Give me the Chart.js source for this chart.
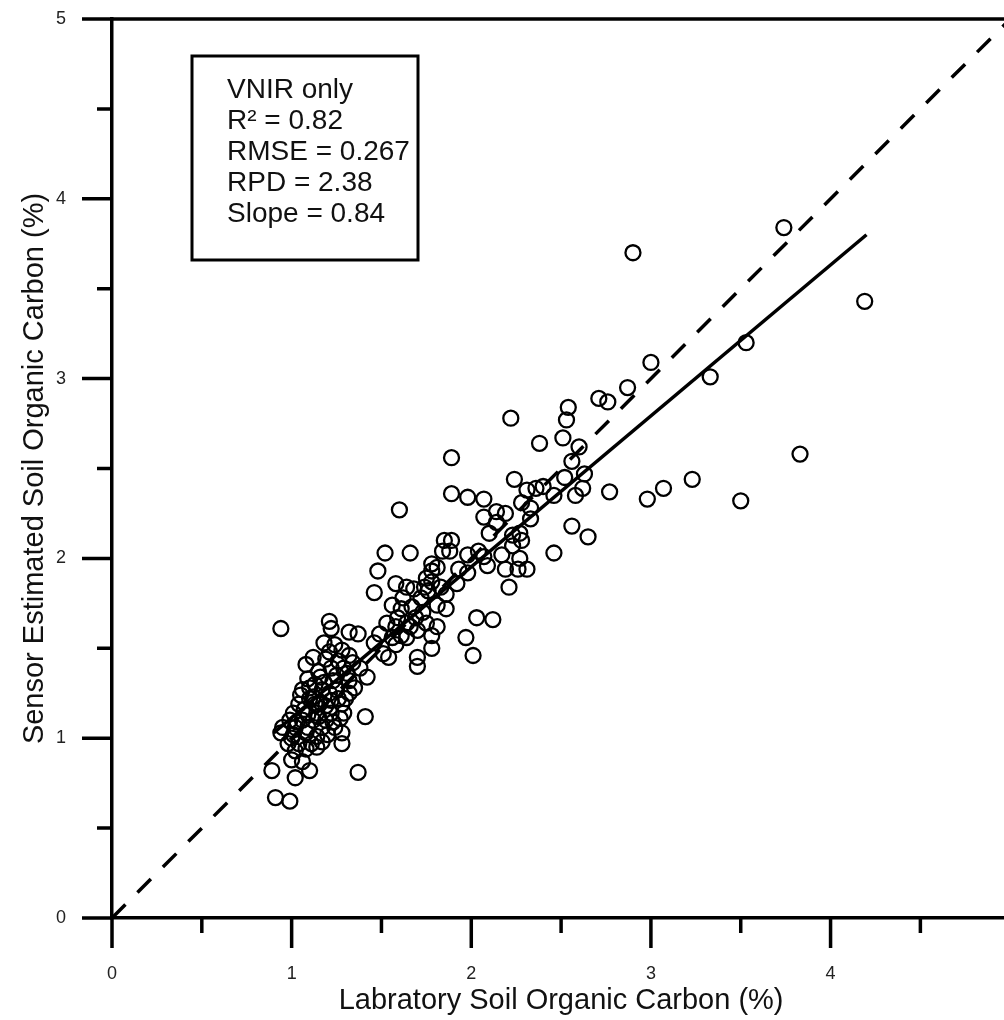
<!DOCTYPE html>
<html>
<head>
<meta charset="utf-8">
<script src="https://cdn.jsdelivr.net/npm/chart.js@4.4.1/dist/chart.umd.min.js"></script>
<style>
  html, body { margin: 0; padding: 0; background: #fff; overflow: hidden; }
  canvas { display: block; }
</style>
</head>
<body>
<canvas id="socChart" width="1020" height="1020"></canvas>
<script>
// lab-measured SOC (%) vs VNIR sensor estimate (%)
const labSOC = [
  0.94, 1.21, 1.22, 1.32, 1.37, 1.18, 1.24, 1.21, 1.28, 1.32, 1.19, 1.08, 1.22, 1.29, 1.38, 1.42,
  1.09, 1.16, 1.23, 1.32, 1.10, 1.17, 1.25, 1.32, 1.10, 1.04, 1.16, 1.22, 1.28, 1.01, 1.07, 1.14,
  1.22, 1.29, 0.99, 1.06, 1.12, 1.19, 1.27, 1.41, 0.95, 1.02, 1.09, 1.17, 1.24, 0.94, 1.01, 1.08,
  1.14, 1.20, 1.28, 0.98, 1.04, 1.11, 1.28, 1.02, 1.08, 1.14, 1.00, 1.06, 1.10, 0.89, 1.02, 1.37,
  0.91, 0.99, 1.05, 1.13, 1.19, 1.26, 1.35, 1.15, 1.26, 1.12,
  1.03, 1.15, 1.21, 1.13, 1.31, 1.25, 1.18, 1.06, 1.34, 1.12, 1.00, 1.17, 1.23, 1.30, 1.09,
  1.46, 1.58, 1.64, 1.68, 1.78, 1.83, 1.56, 1.61, 1.67, 1.73, 1.81, 1.86, 1.53, 1.58, 1.64, 1.69,
  1.75, 1.81, 1.78, 1.70, 1.70, 1.54, 1.51, 1.46, 1.61, 1.56, 1.64, 1.78, 1.48, 1.52, 1.66, 1.60,
  1.89, 1.89, 1.98, 2.07, 2.07, 2.14, 2.14, 1.85, 1.89, 1.84, 1.88, 1.78, 1.78, 1.81, 1.98, 1.93,
  1.98, 2.09, 1.75, 1.74, 2.07, 2.04, 2.03, 2.12, 1.97, 2.01,
  1.62, 1.72, 1.66, 1.59, 1.76, 1.70, 1.49, 1.86, 1.92, 1.58,
  2.22, 2.54, 2.53, 2.51, 2.60, 2.56, 2.63, 2.52, 2.62, 2.58, 2.56, 2.65, 2.46, 2.38, 2.24, 2.31,
  2.36, 2.46, 2.28, 2.33, 2.33, 2.10, 2.23, 2.28, 2.27, 2.23, 2.27, 2.26, 2.31, 2.19, 2.21, 2.77,
  2.98, 3.07, 3.23, 3.50, 3.83, 2.90, 3.74, 4.19, 3.53, 3.33, 3.00, 2.87, 2.71, 2.76,
  2.17, 2.40, 2.19
];
const sensorSOC = [
  1.61, 1.65, 1.61, 1.59, 1.58, 1.53, 1.52, 1.48, 1.49, 1.46, 1.44, 1.41, 1.39, 1.39, 1.39, 1.34,
  1.33, 1.34, 1.32, 1.32, 1.28, 1.27, 1.27, 1.25, 1.22, 1.19, 1.20, 1.21, 1.19, 1.14, 1.16, 1.14,
  1.14, 1.14, 1.10, 1.10, 1.10, 1.10, 1.11, 1.12, 1.06, 1.06, 1.06, 1.06, 1.06, 1.03, 1.02, 1.03,
  1.01, 1.02, 1.03, 0.97, 0.97, 0.97, 0.97, 0.93, 0.94, 0.95, 0.88, 0.87, 0.82, 0.82, 0.78, 0.81,
  0.67, 0.65, 1.24, 1.30, 1.18, 1.22, 1.28, 1.37, 1.43, 1.23,
  1.09, 1.12, 1.25, 1.19, 1.36, 1.35, 1.31, 1.27, 1.42, 1.45, 1.00, 0.98, 1.09, 1.22, 1.13,
  1.81, 1.86, 1.84, 1.83, 1.87, 1.84, 1.74, 1.72, 1.73, 1.70, 1.74, 1.72, 1.64, 1.62, 1.64, 1.67,
  1.64, 1.62, 1.50, 1.45, 1.40, 1.45, 1.47, 1.53, 1.57, 1.56, 1.56, 1.57, 1.93, 2.03, 2.03, 2.27,
  2.56, 2.36, 2.34, 2.33, 2.23, 2.26, 2.20, 2.10, 2.10, 2.04, 2.04, 1.97, 1.93, 1.95, 2.02, 1.94,
  1.92, 1.96, 1.89, 1.84, 2.01, 2.04, 1.67, 1.66, 1.56, 1.46,
  1.78, 1.78, 1.62, 1.67, 1.82, 1.60, 1.58, 1.80, 1.86, 1.52,
  2.78, 2.84, 2.77, 2.67, 2.62, 2.54, 2.47, 2.45, 2.39, 2.35, 2.18, 2.12, 2.03, 2.64, 2.44, 2.38,
  2.39, 2.35, 2.31, 2.28, 2.22, 2.14, 2.13, 2.10, 2.14, 2.07, 2.00, 1.94, 1.94, 1.94, 1.84, 2.37,
  2.33, 2.39, 2.44, 2.32, 2.58, 3.70, 3.84, 3.43, 3.20, 3.01, 3.09, 2.95, 2.89, 2.87,
  2.02, 2.40, 2.25
];

// regression line ends and the 1:1 reference
const fitX = [0.9, 4.2];
const fitY = [1.03, 3.80];
const oneToOne = [0, 5];

const axisTicks = [0, 1, 2, 3, 4, 5];
const statLines = ['VNIR only', 'R\u00B2 = 0.82', 'RMSE = 0.267', 'RPD = 2.38', 'Slope = 0.84'];

const FONT = '"Liberation Sans", Arial, sans-serif';
Chart.defaults.font.family = FONT;

const points = labSOC.map((v, i) => ({ x: v, y: sensorSOC[i] }));

// tick marks (long at integers, short at halves), top edge and stats box
const frame = {
  id: 'frame',
  afterDraw(chart) {
    const { ctx, chartArea: a, scales: { x, y } } = chart;
    ctx.save();
    ctx.strokeStyle = '#000';
    ctx.lineWidth = 3.5;
    ctx.beginPath();
    for (let v = 0; v <= 5; v += 0.5) {
      const len = Number.isInteger(v) ? 30 : 15;
      const px = x.getPixelForValue(v);
      ctx.moveTo(px, a.bottom); ctx.lineTo(px, a.bottom + len);
      const py = y.getPixelForValue(v);
      ctx.moveTo(a.left, py); ctx.lineTo(a.left - len, py);
    }
    ctx.moveTo(a.left - 30, a.top); ctx.lineTo(a.right, a.top);
    ctx.lineTo(a.right, a.bottom);
    ctx.stroke();

    ctx.lineWidth = 3;
    ctx.strokeRect(192, 56, 226, 204);
    ctx.fillStyle = '#111';
    ctx.font = '28px ' + FONT;
    ctx.textBaseline = 'alphabetic';
    statLines.forEach((t, i) => ctx.fillText(t, 227, 98 + i * 31));
    ctx.restore();
  }
};

// invisible tick marks push the labels out without adding layout padding
const hiddenTicks = len => ({ drawOnChartArea: false, drawTicks: true, tickLength: len, tickColor: 'rgba(0,0,0,0)' });

new Chart(document.getElementById('socChart'), {
  type: 'scatter',
  data: {
    datasets: [
      {
        data: points,
        pointStyle: 'circle',
        pointRadius: 7.5,
        pointBorderWidth: 2.3,
        borderColor: '#000',
        backgroundColor: 'rgba(0,0,0,0)',
        order: 3
      },
      {
        type: 'line',
        data: fitX.map((v, i) => ({ x: v, y: fitY[i] })),
        borderColor: '#000',
        borderWidth: 3.5,
        pointRadius: 0,
        fill: false,
        order: 1
      },
      {
        type: 'line',
        data: oneToOne.map(v => ({ x: v, y: v })),
        borderColor: '#000',
        borderWidth: 3.5,
        borderDash: [19, 17],
        pointRadius: 0,
        fill: false,
        order: 2
      }
    ]
  },
  options: {
    responsive: false,
    devicePixelRatio: 1,
    animation: false,
    layout: { padding: { top: 19, right: 8, left: 0, bottom: 0 } },
    plugins: { legend: { display: false }, tooltip: { enabled: false } },
    scales: {
      x: {
        type: 'linear', min: 0, max: 5,
        afterFit: s => { s.height = 102; },
        afterBuildTicks: s => { s.ticks = axisTicks.map(v => ({ value: v })); },
        grid: hiddenTicks(43),
        border: { color: '#000', width: 3.5 },
        ticks: { padding: 2, color: '#222', font: { size: 18 } },
        title: {
          display: true, text: 'Labratory Soil Organic Carbon (%)',
          color: '#111', font: { size: 29 }, padding: { top: 0, bottom: 2 }
        }
      },
      y: {
        type: 'linear', min: 0, max: 5,
        afterFit: s => { s.width = 112; },
        afterBuildTicks: s => { s.ticks = axisTicks.map(v => ({ value: v })); },
        grid: hiddenTicks(44),
        border: { color: '#000', width: 3.5 },
        ticks: { padding: 2, color: '#222', font: { size: 18 } },
        title: {
          display: true, text: 'Sensor Estimated Soil Organic Carbon (%)',
          color: '#111', font: { size: 29 }, padding: { top: 18, bottom: 0 }
        }
      }
    }
  },
  plugins: [frame]
});
</script>
</body>
</html>
